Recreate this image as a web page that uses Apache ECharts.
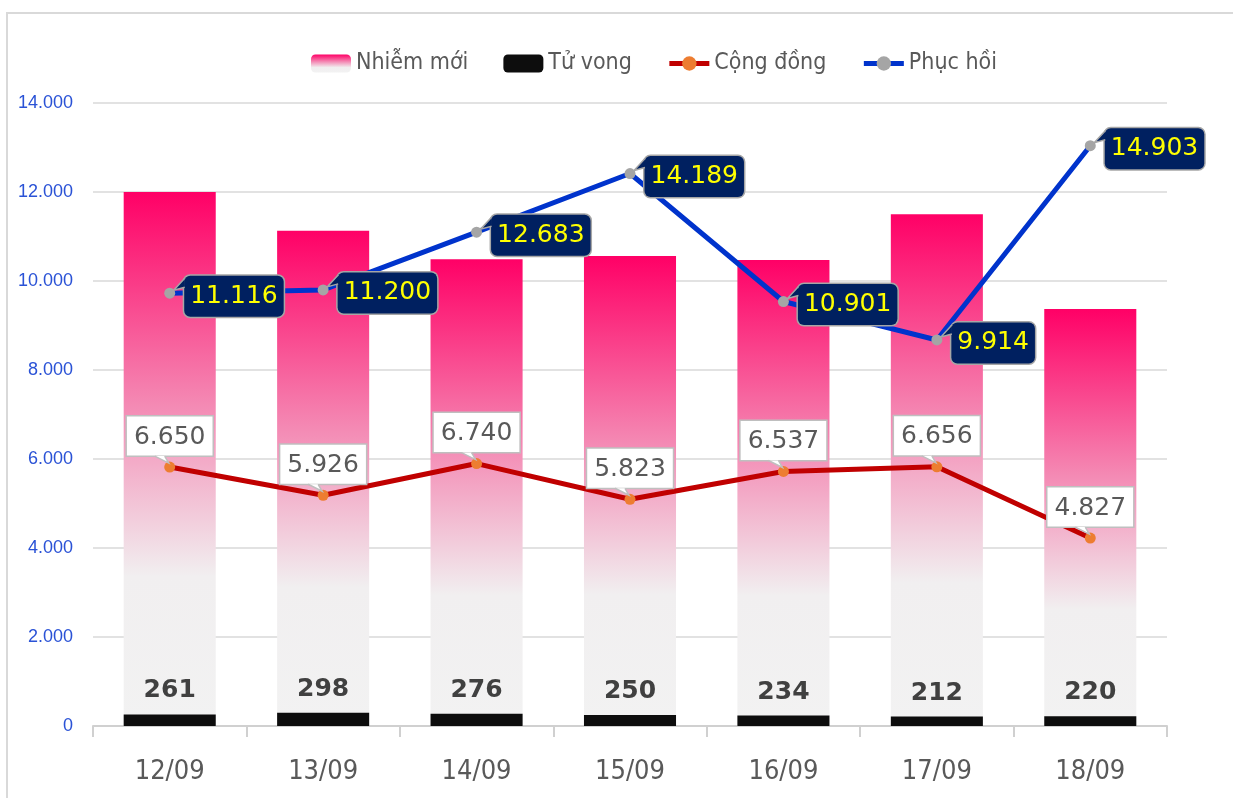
<!DOCTYPE html>
<html>
<head>
<meta charset="utf-8">
<title>Covid</title>
<script src="https://cdn.jsdelivr.net/npm/echarts@6/dist/echarts.min.js"></script>
<style>
  html, body { margin: 0; padding: 0; background: #fff; }
  .box { width: 1233px; height: 798px; }
</style>
</head>
<body>
<div class="box"></div>
<script>
// du lieu doc tu hinh
var days = ['12/09', '13/09', '14/09', '15/09', '16/09', '17/09', '18/09'];
var nhiemMoi = [12000, 11130, 10490, 10560, 10470, 11500, 9370];
var tuVong = [261, 298, 276, 250, 234, 212, 220];
var congDong = [6650, 5926, 6740, 5823, 6537, 6656, 4827];
var phucHoi = [11116, 11200, 12683, 14189, 10901, 9914, 14903];

(function(){
    // 1.khoi tao
    var myChart = echarts.init(document.querySelector('.box'));

    // dinh dang so kieu VN: 14.000
    function fmt(v) {
        return String(v).replace(/\B(?=(\d{3})+(?!\d))/g, '.');
    }
    var narrow = '"DejaVu Sans Condensed", "Liberation Sans Narrow", "Liberation Sans", sans-serif';
    var sans = '"DejaVu Sans", Verdana, sans-serif';

    // duoi nho cua o nhan (callout), ve theo toa do diem
    function tailItem(kind) {
        return function(params, api) {
            var p = api.coord([api.value(0), api.value(1)]);
            var pts, fill, stroke;
            if (kind === 'down') {
                // o nhan nam tren diem
                pts = [[p[0] - 15, p[1] - 11], [p[0] - 1, p[1] - 4], [p[0] - 5, p[1] - 11]];
                fill = '#fff'; stroke = '#bfbfbf';
            } else {
                // o nhan nam ben phai diem
                pts = [[p[0] + 15, p[1] - 15], [p[0] + 4, p[1] - 3], [p[0] + 15, p[1] - 6]];
                fill = '#002060'; stroke = '#a6a6a6';
            }
            return {
                type: 'group',
                children: [{
                    type: 'polygon',
                    shape: { points: pts },
                    style: { fill: fill, stroke: null }
                }, {
                    type: 'polyline',
                    shape: { points: pts },
                    style: { fill: null, stroke: stroke, lineWidth: 1.5 }
                }]
            };
        };
    }

    // 2.cau hinh
    var option = {
        backgroundColor: '#fff',
        animation: false,
        graphic: [{
            type: 'rect',
            shape: { x: 7, y: 13, width: 1260, height: 820 },
            style: { fill: 'none', stroke: '#d9d9d9', lineWidth: 2 },
            silent: true
        }],
        legend: {
            left: 306,
            top: 47,
            itemWidth: 40,
            itemHeight: 18,
            itemGap: 35,
            textStyle: { fontFamily: narrow, fontSize: 23, color: '#595959' },
            data: [
                'Nhiễm mới',
                'Tử vong',
                { name: 'Cộng đồng', lineStyle: { width: 5 } },
                { name: 'Phục hồi', lineStyle: { width: 5 } }
            ]
        },
        grid: { left: 93, right: 66, top: 103, bottom: 72 },
        xAxis: {
            type: 'category',
            data: days,
            axisLine: { lineStyle: { color: '#d0d0d0', width: 2 } },
            axisTick: { show: true, length: 11, lineStyle: { color: '#d0d0d0', width: 2 } },
            axisLabel: { fontFamily: narrow, fontSize: 27, color: '#595959', margin: 32 }
        },
        yAxis: [{
            type: 'value',
            min: 0,
            max: 14000,
            interval: 2000,
            axisLine: { show: false },
            axisTick: { show: false },
            splitLine: { lineStyle: { color: '#d9d9d9', width: 1.5 } },
            axisLabel: { formatter: fmt, fontFamily: '"Liberation Sans", Arial, sans-serif', fontSize: 18, color: '#2a52d6', margin: 20 }
        }, {
            // truc phu an, cho 2 duong
            type: 'value',
            min: 0,
            max: 16000,
            show: false,
            splitLine: { show: false }
        }],
        series: [{
            name: 'Nhiễm mới',
            type: 'bar',
            barWidth: '60%',
            barGap: '-100%',
            data: nhiemMoi,
            itemStyle: {
                color: new echarts.graphic.LinearGradient(0, 0, 0, 1, [
                    { offset: 0, color: '#ff0066' },
                    { offset: 0.4, color: '#f48ab4' },
                    { offset: 0.72, color: '#f1eff0' },
                    { offset: 1, color: '#f2f2f2' }
                ])
            }
        }, {
            name: 'Tử vong',
            type: 'bar',
            barWidth: '60%',
            barGap: '-100%',
            data: tuVong,
            itemStyle: { color: '#0d0d0d' },
            label: {
                show: true,
                position: 'top',
                distance: 11,
                fontFamily: sans,
                fontSize: 25,
                fontWeight: 'bold',
                color: '#404040'
            }
        }, {
            name: 'Cộng đồng',
            type: 'line',
            yAxisIndex: 1,
            data: congDong,
            symbol: 'circle',
            symbolSize: 11,
            z: 5,
            lineStyle: { color: '#c00000', width: 5 },
            itemStyle: { color: '#ed7d31' },
            label: {
                show: true,
                position: 'top',
                distance: 6,
                formatter: function(p) { return fmt(p.value); },
                fontFamily: sans,
                fontSize: 25,
                color: '#595959',
                backgroundColor: '#fff',
                borderColor: '#bfbfbf',
                borderWidth: 1.5,
                padding: [8, 7, 6, 7]
            }
        }, {
            name: 'Phục hồi',
            type: 'line',
            yAxisIndex: 1,
            data: phucHoi,
            symbol: 'circle',
            symbolSize: 11,
            z: 6,
            lineStyle: { color: '#0033cc', width: 5 },
            itemStyle: { color: '#a5a5a5' },
            label: {
                show: true,
                position: 'right',
                distance: 9,
                offset: [0, 3],
                formatter: function(p) { return fmt(p.value); },
                fontFamily: sans,
                fontSize: 25,
                color: '#ffff00',
                backgroundColor: '#002060',
                borderColor: '#a6a6a6',
                borderWidth: 1.5,
                borderRadius: 6,
                padding: [9, 6, 7, 6]
            }
        }, {
            name: 'tail-cd',
            type: 'custom',
            yAxisIndex: 1,
            z: 8,
            silent: true,
            renderItem: tailItem('down'),
            data: congDong.map(function(v, i) { return [i, v]; })
        }, {
            name: 'tail-ph',
            type: 'custom',
            yAxisIndex: 1,
            z: 8,
            silent: true,
            renderItem: tailItem('left'),
            data: phucHoi.map(function(v, i) { return [i, v]; })
        }]
    };

    // 3.dua cau hinh vao bieu do
    myChart.setOption(option);
    window.addEventListener('resize', function() {
        myChart.resize();
    });
})();
</script>
</body>
</html>
